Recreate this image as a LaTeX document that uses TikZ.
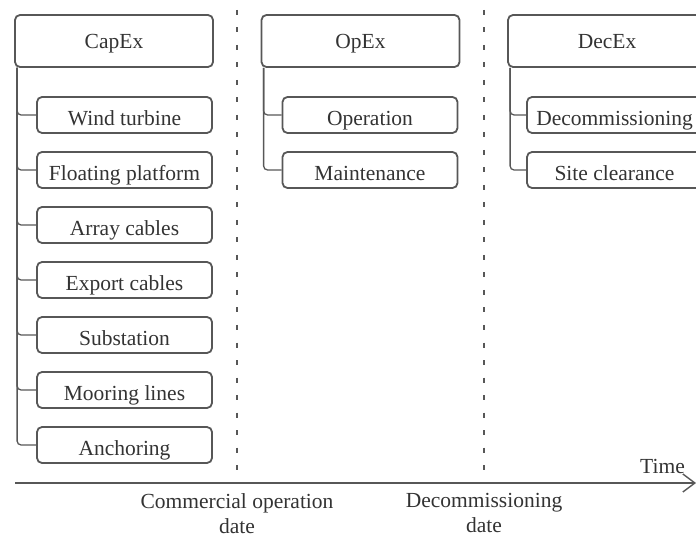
\documentclass[tikz,border=0pt]{standalone}
\usepackage{fontspec}
\setmainfont{Liberation Serif}
\usetikzlibrary{
  arrows.meta,
  positioning,
}
\definecolor{linegray}{HTML}{575757}
\definecolor{textgray}{HTML}{333333}
\tikzset{
  >={Straight Barb[length=12pt,width=18pt]},
  every node/.style={text=textgray, font=\fontsize{21.5}{25.5}\selectfont},
  headbox/.style={draw=linegray, line width=1.8pt, rounded corners=5pt,
    minimum width=198pt, minimum height=52pt,
    inner ysep=0pt, text height=15pt, text depth=0pt},
  itembox/.style={draw=linegray, line width=1.8pt, rounded corners=5pt,
    minimum width=175pt, minimum height=36pt,
    inner ysep=0pt, text height=21pt, text depth=0pt},
  branch/.style={draw=linegray, line width=1.3pt, rounded corners=4pt},
  divider/.style={draw=linegray, line width=2pt, dash pattern=on 5pt off 12.5pt},
  axis/.style={draw=linegray, line width=1.4pt},
}

\begin{document}
\begin{tikzpicture}[x=1pt,y=-1pt]
      \useasboundingbox (0,0) rectangle (696,537);

      % time line and milestones
      \coordinate (t0) at (15,483);
      \coordinate (t1) at (696,483);
      \coordinate (cod) at (237,483);
      \coordinate (dd) at (484,483);
      \draw[divider] (237,10) -- (cod);
      \draw[divider] (484,10) -- (dd);
      \draw[axis, ->] (t0) -- (t1);
      \node[anchor=base east, inner sep=0pt] (timelbl)
        at ([xshift=-11pt,yshift=10pt]t1) {Time};
      \node[below=10pt of cod, align=center, inner ysep=0pt] (codlbl) {Commercial operation\\date};
      \node[below=10pt of dd, align=center, inner ysep=0pt] (ddlbl) {Decommissioning\\date};

      % cost phases
      \node[headbox] (capex) at (114,41) {CapEx};
      \node[headbox] (opex) at (360.5,41) {OpEx};
      \node[headbox] (decex) at (607,41) {DecEx};

      \foreach \i/\name/\txt in {
        0/turbine/Wind turbine,
        1/platform/Floating platform,
        2/array/Array cables,
        3/export/Export cables,
        4/substation/Substation,
        5/mooring/Mooring lines,
        6/anchoring/Anchoring
      } {
        \node[itembox] (\name) at (124.5,{115+55*\i}) {\txt};
        \draw[branch] ([xshift=3pt]capex.south west) |- (\name.west);
      }

      \foreach \i/\name/\txt in {
        0/operation/Operation,
        1/maintenance/Maintenance
      } {
        \node[itembox] (\name) at (370,{115+55*\i}) {\txt};
        \draw[branch] ([xshift=3pt]opex.south west) |- (\name.west);
      }

      \foreach \i/\name/\txt in {
        0/decom/Decommissioning,
        1/clearance/Site clearance
      } {
        \node[itembox] (\name) at (614.5,{115+55*\i}) {\txt};
        \draw[branch] ([xshift=3pt]decex.south west) |- (\name.west);
      }
    \end{tikzpicture}
\end{document}
